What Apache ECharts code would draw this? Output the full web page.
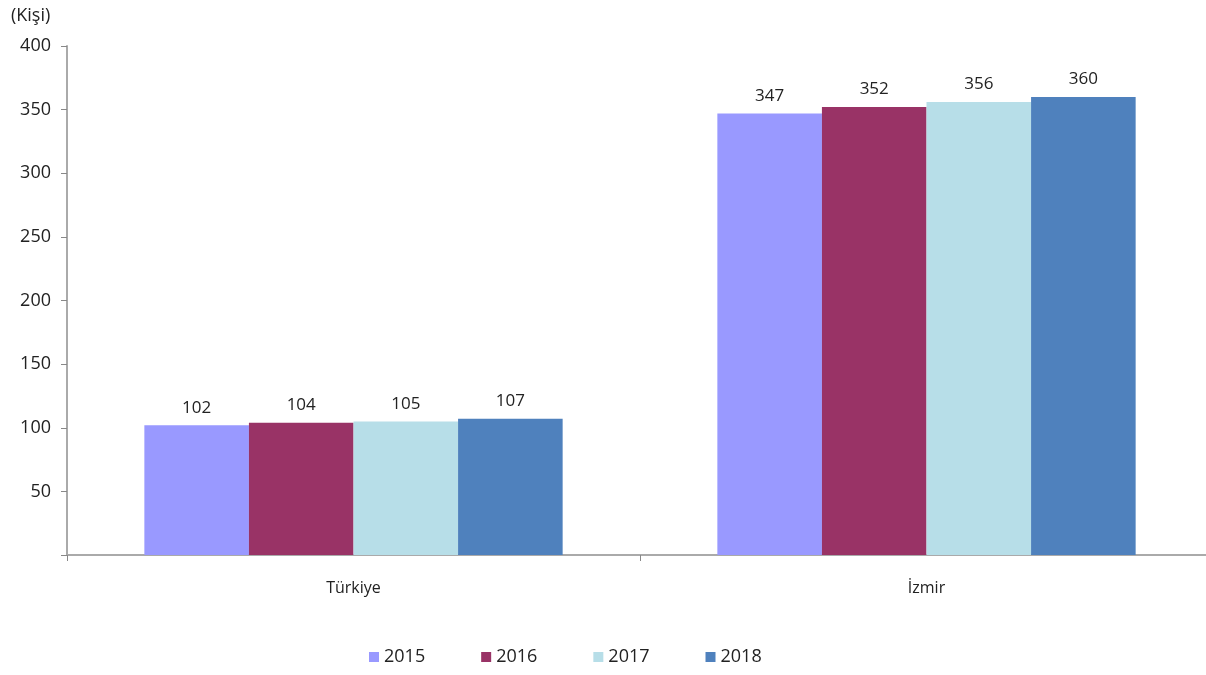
<!DOCTYPE html>
<html>
<head>
<meta charset="utf-8">
<script src="https://cdn.jsdelivr.net/npm/echarts@6/dist/echarts.min.js"></script>
<style>
html, body { margin: 0; padding: 0; background: #fff; overflow: hidden; }
#main { width: 1220px; height: 675px; }
</style>
</head>
<body>
<div id="main"></div>
<script>
var categories = ['Türkiye', 'İzmir'];
var years = ['2015', '2016', '2017', '2018'];
var v2015 = [102, 347];
var v2016 = [104, 352];
var v2017 = [105, 356];
var v2018 = [107, 360];
var colors = ['#9999FF', '#993366', '#B7DEE8', '#4F81BD'];

var font = 'Open Sans';
var myChart = echarts.init(document.getElementById('main'));
var allValues = [v2015, v2016, v2017, v2018];

// 每个年份一个系列
var series = years.map(function (y, i) {
    return {
        name: y,
        type: 'bar',
        data: allValues[i],
        barGap: '0%',
        barCategoryGap: '27%',
        itemStyle: { color: colors[i] },
        label: {
            show: true,
            position: 'top',
            distance: 9,
            color: '#222',
            fontSize: 17,
            fontFamily: font
        }
    };
});

var option = {
    animation: false,
    title: {
        text: '(Kişi)',
        left: 6,
        top: 2,
        textStyle: { fontSize: 18, fontWeight: 'normal', color: '#222', fontFamily: font }
    },
    legend: {
        bottom: 4,
        left: 364,
        itemWidth: 10,
        itemHeight: 10,
        itemGap: 56,
        icon: 'rect',
        textStyle: { fontSize: 18, color: '#222', fontFamily: font },
        data: years
    },
    // 画布比窗口宽一点，右边被裁掉
    grid: { left: 67, top: 46, right: 7, bottom: 120 },
    xAxis: {
        type: 'category',
        data: categories,
        axisLine: { lineStyle: { color: '#aaa', width: 2 } },
        axisTick: { show: true, length: 6, lineStyle: { color: '#888' } },
        axisLabel: { fontSize: 16, color: '#222', margin: 25, fontFamily: font }
    },
    yAxis: {
        type: 'value',
        min: 0,
        max: 400,
        interval: 50,
        axisLine: { show: true, lineStyle: { color: '#aaa', width: 2 } },
        axisTick: { show: true, length: 6, lineStyle: { color: '#888' } },
        splitLine: { show: false },
        axisLabel: {
            fontSize: 18,
            color: '#222',
            margin: 16,
            fontFamily: font,
            formatter: function (v) { return v === 0 ? '' : v; }
        }
    },
    series: series
};

myChart.setOption(option, true);
</script>
</body>
</html>
